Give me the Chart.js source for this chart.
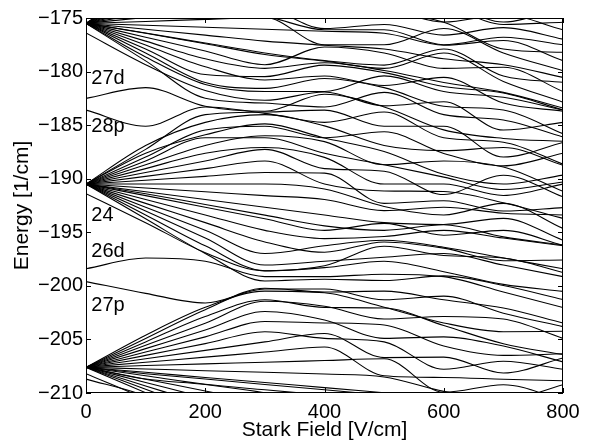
<!DOCTYPE html>
<html>
<head>
<meta charset="utf-8">
<script src="https://cdn.jsdelivr.net/npm/chart.js@4.4.1/dist/chart.umd.min.js"></script>
<style>
html, body { margin: 0; padding: 0; background: #fff; }
canvas { display: block; }
</style>
</head>
<body>
<canvas id="stark" width="589" height="441"></canvas>
<script>
"use strict";

// Stark field (V/cm) at which every level is read
const fieldGrid = [0, 100, 200, 300, 400, 500, 600, 700, 800];

// Two families of levels that do not repel each other, so they cross.
// Values in 1/cm, lowest first; values below -210 or above -175 only lead the line off the plot.

// family A: n = 23 part
const familyALower = [
  [-208.7, -210.29, -212.97, -215.65, -218.34, -217.9, -216, -215, -217],
  [-207.6, -209.65, -211.71, -213.76, -215.82, -214.71, -214.24, -214.2, -216.4],
  [-207.6, -209.02, -210.44, -211.87, -213.29, -212.66, -212.34, -213.13, -213.92],
  [-207.6, -208.7, -209.2, -209.97, -210.76, -211.55, -212.1, -211.7, -213.54],
  [-207.6, -208.39, -209.18, -209.7, -210.2, -210.7, -211.2, -211.41, -212.2],
  [-207.6, -207.76, -207.92, -208.07, -208.23, -208.5, -209.85, -210.66, -209.23],
  [-207.6, -207.13, -206.65, -206.18, -205.7, -208.39, -208.55, -208.71, -208.86],
  [-207.6, -206.49, -205.39, -204.28, -204.9, -205.23, -207.78, -207.04, -207.78],
  [-207.6, -205.86, -204.12, -202.39, -203.18, -204.9, -204.76, -205.62, -207.1],
  [-207.6, -205.23, -202.86, -201.3, -202.02, -202.07, -203.7, -205.4, -206.41],
  [-207.6, -204.6, -202.0, -200.49, -200.65, -202.0, -203.46, -204.28, -204.24]
];

// family A: 27p, 26d, 28s, n = 24, 28p, 27d
const familyAMiddle = [
  [-199.6, -200.7, -201.6, -200.3, -200.3, -201.3, -200.96, -202.55, -203.81],
  [-198.4, -197.4, -197.7, -199.14, -199.14, -198.91, -199.14, -200.58, -202.02],
  [-191.4, -194.1, -196.9, -198.6, -198.3, -197.7, -198.68, -199.86, -200.52],
  [-190.5, -193.38, -196.26, -198.59, -198.12, -196.3, -197.17, -197.4, -198.75],
  [-190.5, -192.66, -194.82, -196.98, -196.26, -195.75, -196.4, -197.4, -198.4],
  [-190.5, -191.94, -193.38, -194.82, -195.59, -195.4, -194.82, -195.54, -196.26],
  [-190.5, -191.4, -192.4, -193.4, -194.4, -194.82, -194.3, -195.43, -196.2],
  [-190.5, -191.22, -191.94, -192.66, -193.38, -194.1, -194.27, -193.7, -195.74],
  [-190.5, -190.5, -190.5, -190.5, -190.96, -192.59, -193.38, -192.3, -194.64],
  [-190.5, -189.78, -189.06, -188.34, -190.5, -191.14, -191.2, -192.24, -193.7],
  [-190.5, -189.06, -187.62, -187.09, -188.01, -190.5, -190.5, -191.56, -190.5],
  [-190.5, -188.34, -186.18, -186.18, -187.62, -188.7, -189.85, -191.01, -190.3],
  [-190.5, -187.62, -185.9, -184.88, -186.2, -187.46, -189.59, -190.5, -189.66],
  [-190.5, -186.9, -184.74, -184.02, -185.07, -186.9, -187.38, -187.09, -188.75],
  [-183.6, -185.1, -183.3, -183.9, -184.74, -183.78, -186.18, -186.59, -188.64],
  [-182.5, -181.5, -183.23, -183.7, -182.12, -183.3, -185.44, -186.24, -186.5]
];

// family A: 29s, n = 25 and levels from above
const familyAUpper = [
  [-176.4, -179.36, -181.76, -182.68, -181.9, -183.2, -182.82, -185.46, -184.74],
  [-175.5, -178.63, -181.2, -181.86, -181.86, -180.4, -181.86, -182.4, -183.58],
  [-175.5, -177.89, -180.28, -180.47, -179.4, -180.1, -181.4, -182.0, -183.58],
  [-175.5, -177.16, -178.81, -179.7, -179.18, -179.9, -181.02, -181.94, -183.4],
  [-175.5, -176.42, -177.4, -178.4, -179.02, -179.7, -178.26, -180.92, -182.86],
  [-175.5, -176.4, -177.34, -178.26, -178.98, -179.4, -177.9, -180.42, -181.0],
  [-175.5, -175.68, -175.87, -176.05, -176.24, -176.42, -177.54, -177.1, -178.98],
  [-175.5, -174.95, -174.4, -174.84, -176.1, -176.1, -177.5, -176.79, -177.5],
  [-175.5, -174.21, -172.92, -173.84, -175.98, -175.6, -176.6, -175.9, -176.97],
  [-175.5, -173.48, -171.45, -172.56, -173.29, -172.74, -173.7, -175.6, -175.4],
  [-175.5, -172.74, -170.0, -172.0, -172.94, -172.5, -173.4, -175.38, -173.9],
  [-175.5, -172.0, -169.0, -171.0, -171.5, -171.5, -173.22, -172.3, -173.22]
];

// family B: n = 23 part
const familyBLower = [
  [-208.2, -210.6, -213.6, -216.6, -219.6, -216, -215, -215, -216],
  [-207.6, -209.97, -212.34, -214.7, -217.1, -214.71, -214, -214, -215],
  [-207.6, -209.34, -211.08, -212.81, -214.55, -214.2, -212.34, -213.5, -214],
  [-207.6, -208.71, -209.81, -210.92, -212.02, -213.13, -211.72, -213.18, -213],
  [-207.6, -208.2, -208.7, -209.2, -209.7, -210.2, -210.7, -211.2, -211.7],
  [-207.6, -208.07, -208.55, -209.02, -209.5, -209.97, -210.44, -210.92, -211.39],
  [-207.6, -207.44, -207.28, -207.13, -206.97, -206.81, -209.94, -209.23, -210.66],
  [-207.6, -206.81, -206.02, -205.23, -204.44, -206.7, -206.65, -208.14, -206.73],
  [-207.6, -206.18, -204.76, -203.33, -203.46, -203.65, -205.62, -206.49, -206.34],
  [-207.6, -205.55, -203.49, -201.44, -201.91, -203.1, -202.86, -203.1, -204.9],
  [-207.6, -204.91, -202.23, -200.22, -200.58, -200.49, -201.3, -202.07, -203.47]
];

// family B: n = 24
const familyBMiddle = [
  [-190.5, -193.74, -196.98, -199.54, -199.38, -199.5, -199.07, -199.97, -201.28],
  [-190.5, -193.02, -195.54, -198.06, -197.7, -197.33, -196.98, -198.06, -199.14],
  [-190.5, -192.3, -194.1, -195.9, -196.86, -195.9, -196.48, -197.65, -197.58],
  [-190.5, -191.58, -192.66, -193.74, -194.82, -194.17, -195.28, -194.82, -196.22],
  [-190.5, -190.86, -191.22, -191.58, -191.94, -192.98, -192.66, -193.22, -193.38],
  [-190.5, -190.14, -189.78, -189.42, -189.48, -192.3, -192.06, -193.02, -192.7],
  [-190.5, -189.42, -188.34, -187.26, -189.06, -189.3, -191.48, -189.67, -191.69],
  [-190.5, -188.7, -186.9, -185.99, -186.54, -188.7, -188.34, -188.9, -191.17],
  [-190.5, -187.98, -185.46, -185.1, -186.18, -185.62, -187.64, -188.8, -187.62],
  [-190.5, -187.26, -184.02, -183.78, -183.6, -185.1, -185.1, -187.98, -186.62]
];

// family B: n = 25 and levels from above
const familyBUpper = [
  [-175.5, -179.0, -182.49, -182.94, -183.3, -181.94, -184.02, -184.52, -186.11],
  [-175.5, -178.26, -181.02, -181.57, -180.65, -181.5, -183.23, -183.58, -185.8],
  [-175.5, -177.52, -179.55, -180.78, -180.42, -181.3, -180.54, -182.94, -183.7],
  [-175.5, -176.79, -178.08, -179.36, -177.71, -178.26, -179.7, -179.6, -181.86],
  [-175.5, -176.05, -176.6, -177.16, -177.54, -177.9, -178.81, -179.36, -180.54],
  [-175.5, -175.32, -175.13, -174.95, -177.5, -177.5, -175.98, -178.26, -179.92],
  [-175.5, -174.58, -173.66, -173.7, -174.76, -174.58, -175.4, -177.9, -178.2],
  [-175.5, -173.84, -172.19, -172.74, -174.46, -174.3, -175.38, -174.7, -176.1],
  [-175.5, -173.11, -170.72, -171.4, -171.98, -173.7, -174.4, -174.21, -174.03],
  [-175.5, -172.37, -169.3, -170.5, -171.0, -171.2, -171.3, -172.86, -172.0],
  [-175.5, -171.64, -168.0, -170.0, -170.0, -170.0, -171.0, -171.0, -171.0]
];

// state labels on the left
const stateNames = ["27d", "28p", "24", "26d", "27p"];
const stateEnergy = [-180.67, -185.1, -193.46, -196.8, -201.8];
const stateField = 9;

const FONT = '"Liberation Sans", Arial, Helvetica, sans-serif';

const allLevels = familyALower.concat(familyAMiddle, familyAUpper, familyBLower, familyBMiddle, familyBUpper);

const datasets = allLevels.map(function (lvl) {
  return {
    data: fieldGrid.map(function (f, i) { return { x: f, y: lvl[i] }; }),
    borderColor: "#000",
    borderWidth: 1.1,
    pointRadius: 0,
    cubicInterpolationMode: "monotone"
  };
});

// box with inward ticks + state labels
const framePlugin = {
  id: "frame",
  afterDatasetsDraw(chart) {
    const ctx = chart.ctx;
    const a = chart.chartArea;
    const xs = chart.scales.x;
    const ys = chart.scales.y;
    ctx.save();
    ctx.strokeStyle = "#000";
    ctx.lineWidth = 1;
    ctx.strokeRect(a.left + 0.5, a.top + 0.5, a.right - a.left - 1, a.bottom - a.top - 1);
    ctx.beginPath();
    ys.ticks.forEach(function (t) {
      const p = Math.round(ys.getPixelForValue(t.value)) + 0.5;
      ctx.moveTo(a.left, p); ctx.lineTo(a.left + 5, p);
      ctx.moveTo(a.right, p); ctx.lineTo(a.right - 5, p);
    });
    xs.ticks.forEach(function (t) {
      const p = Math.round(xs.getPixelForValue(t.value)) + 0.5;
      ctx.moveTo(p, a.bottom); ctx.lineTo(p, a.bottom - 5);
      ctx.moveTo(p, a.top); ctx.lineTo(p, a.top + 5);
    });
    ctx.stroke();

    ctx.fillStyle = "#000";
    ctx.font = "20px " + FONT;
    ctx.textAlign = "left";
    ctx.textBaseline = "middle";
    stateNames.forEach(function (s, i) {
      ctx.fillText(s, xs.getPixelForValue(stateField), ys.getPixelForValue(stateEnergy[i]));
    });
    ctx.restore();
  }
};

new Chart(document.getElementById("stark"), {
  type: "line",
  data: { datasets: datasets },
  options: {
    responsive: false,
    animation: false,
    events: [],
    layout: { padding: { left: 0, right: 26, top: 18, bottom: 0 } },
    plugins: { legend: { display: false }, tooltip: { enabled: false } },
    scales: {
      x: {
        type: "linear",
        min: 0,
        max: 800,
        grid: { display: false, drawTicks: false },
        border: { display: false },
        ticks: { stepSize: 200, padding: 7, color: "#000", font: { family: FONT, size: 20 } },
        title: {
          display: true,
          text: "Stark Field [V/cm]",
          color: "#000",
          font: { family: FONT, size: 21, lineHeight: 1 },
          padding: { top: 0, bottom: 0.5 }
        },
        afterFit(s) { s.height = 48; }
      },
      y: {
        type: "linear",
        min: -210,
        max: -175,
        grid: { display: false, drawTicks: false },
        border: { display: false },
        ticks: {
          stepSize: 5,
          padding: 3,
          color: "#000",
          font: { family: FONT, size: 20 },
          callback: function (v) { return String(v).replace("-", "\u2212"); }
        },
        title: {
          display: true,
          text: "Energy [1/cm]",
          color: "#000",
          font: { family: FONT, size: 21, lineHeight: 1 },
          padding: { top: 12, bottom: 0 }
        },
        afterFit(s) { s.width = 86; }
      }
    }
  },
  plugins: [framePlugin]
});
</script>
</body>
</html>
